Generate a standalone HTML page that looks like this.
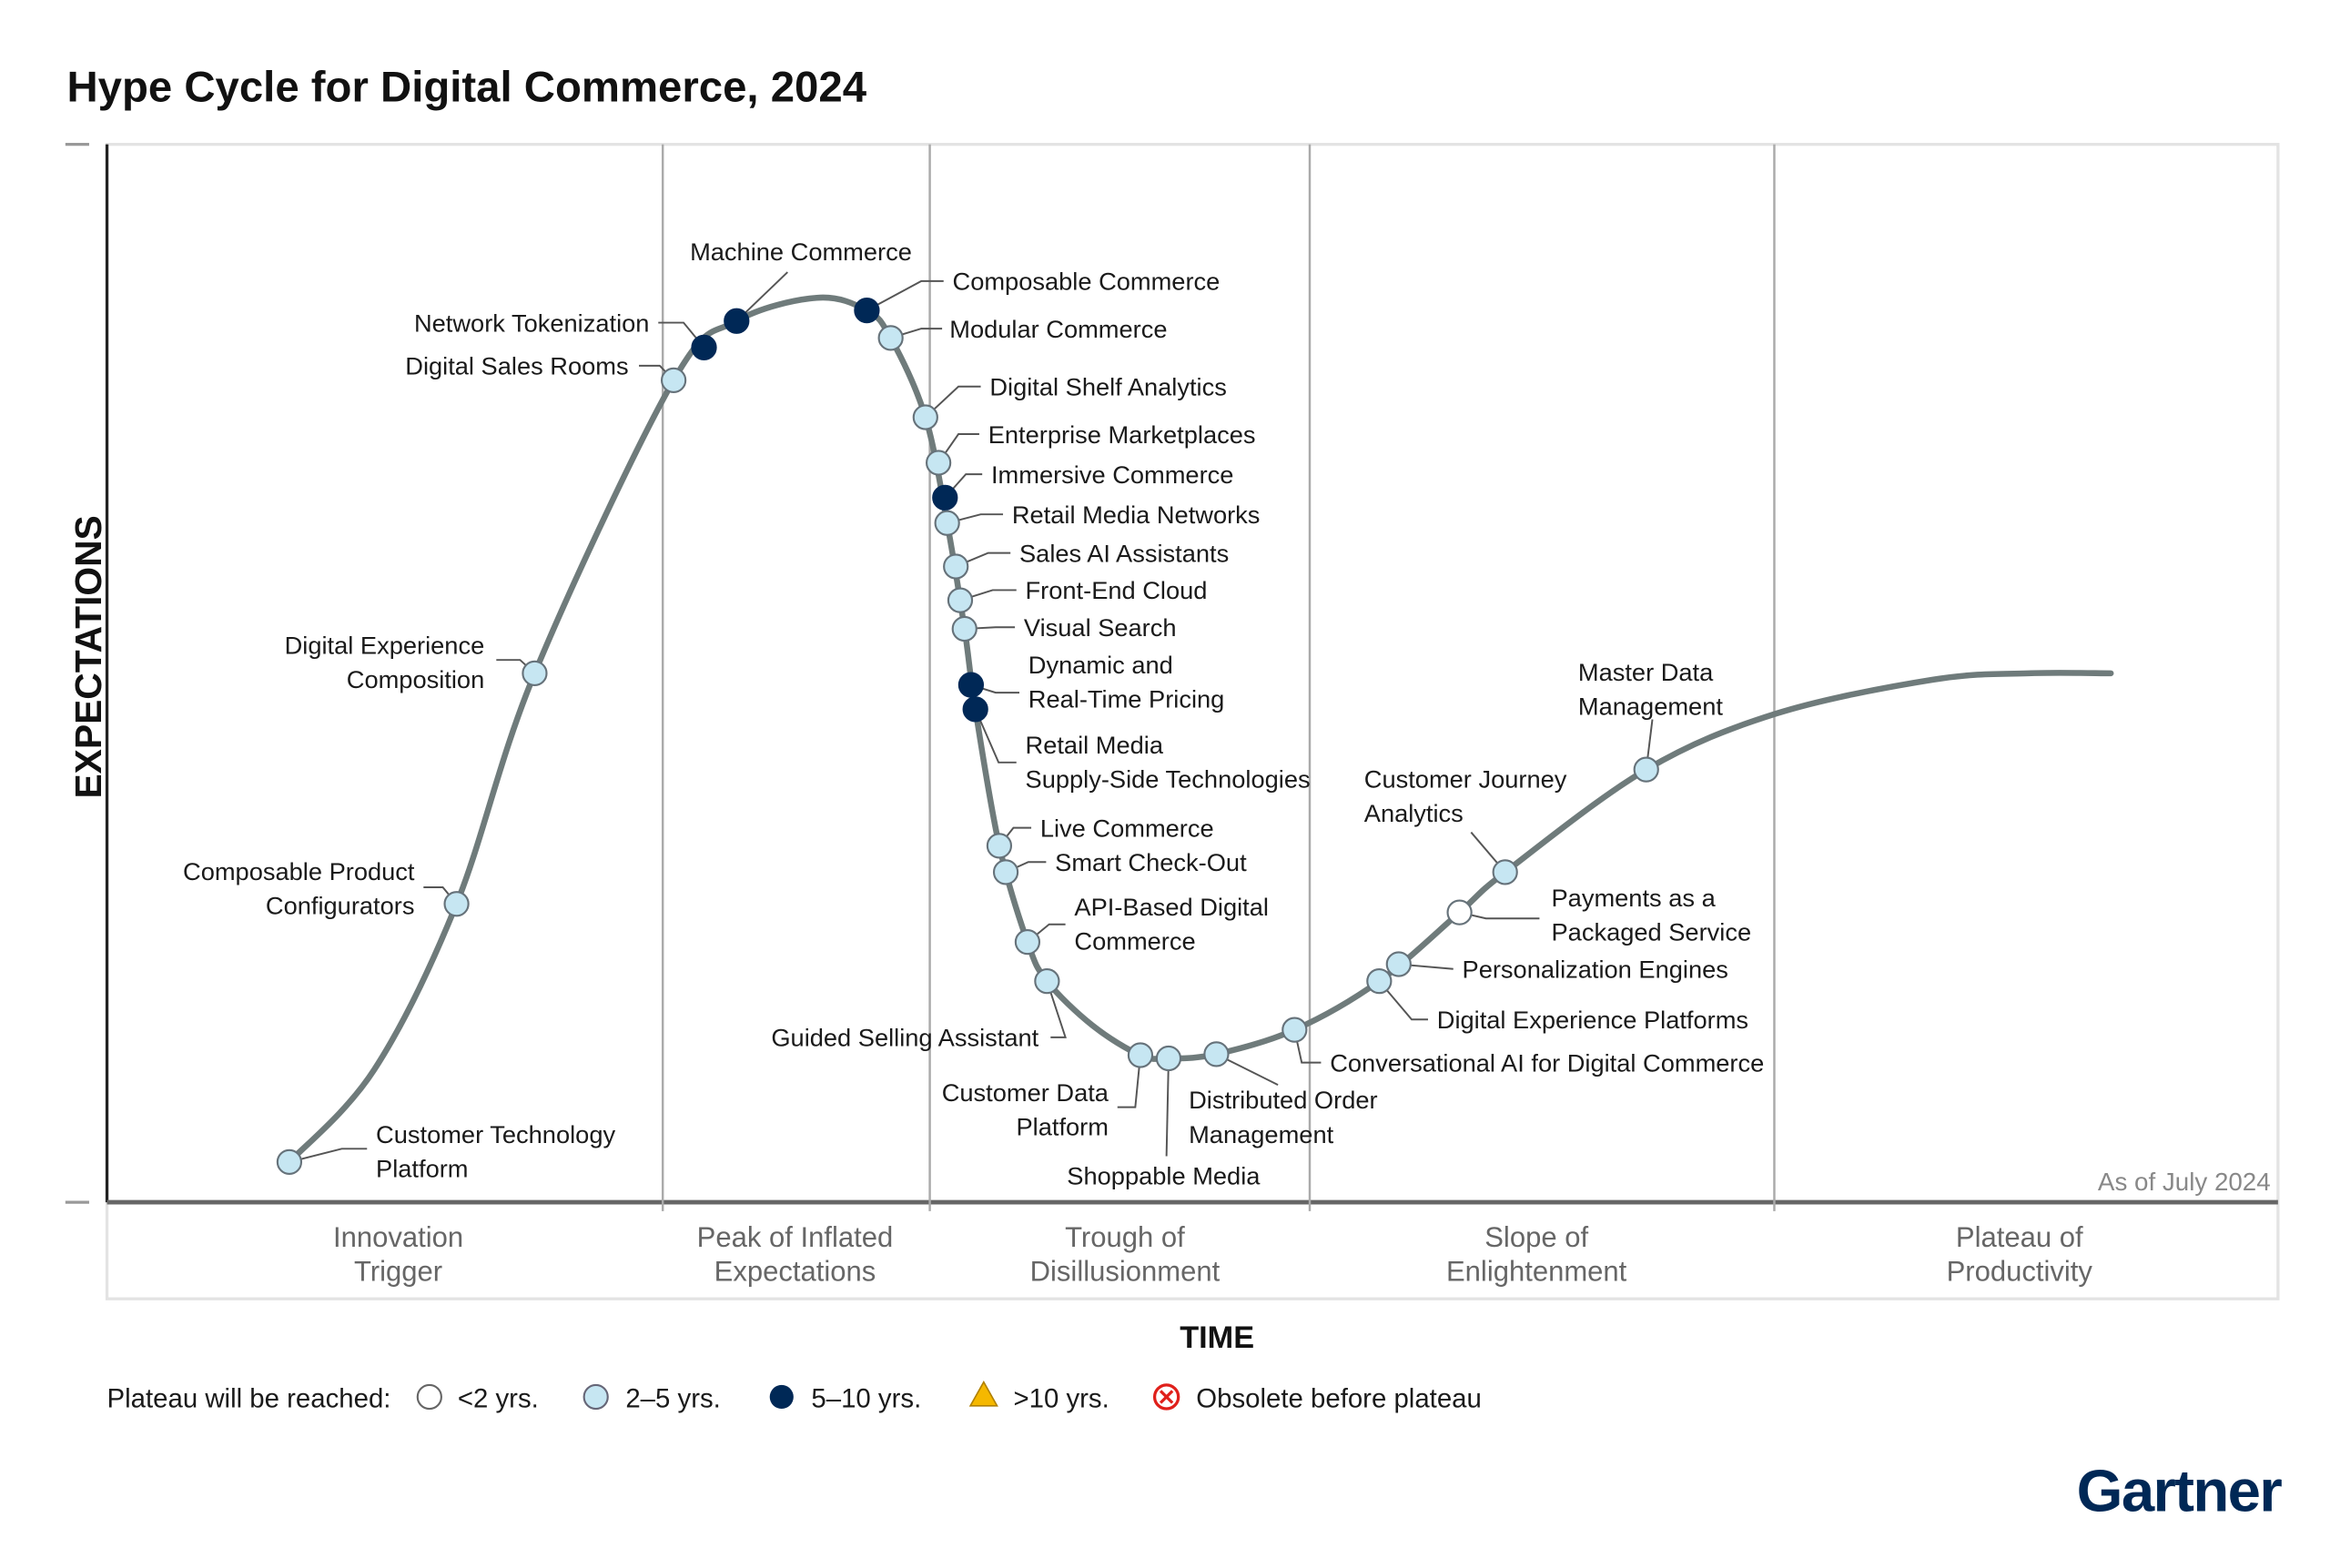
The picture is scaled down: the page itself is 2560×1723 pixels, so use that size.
<!DOCTYPE html>
<html><head><meta charset="utf-8"><style>
html,body{margin:0;padding:0;background:#fff;}
svg{display:block;font-family:"Liberation Sans Narrow","Liberation Sans",sans-serif;}
.lbl{font-size:16.7px;fill:#1a1a1a;}
.lead{stroke:#555;stroke-width:1.2;fill:none;}
.phase{font-size:19px;fill:#666;text-anchor:middle;}
</style></head><body>
<svg id="chart" width="2560" height="1723" viewBox="0 0 1568 1055" xmlns="http://www.w3.org/2000/svg">
<text x="45" y="68" style="font-family:'Liberation Sans',sans-serif;font-weight:bold;font-size:29px;fill:#111">Hype Cycle for Digital Commerce, 2024</text>
<rect x="72" y="97" width="1461" height="712" fill="none" stroke="#e3e3e3" stroke-width="2"/>
<rect x="72" y="809" width="1461" height="65" fill="none" stroke="#e3e3e3" stroke-width="2"/>
<line x1="72" y1="97" x2="72" y2="809" stroke="#222" stroke-width="2"/>
<line x1="72" y1="809" x2="1533" y2="809" stroke="#666" stroke-width="3"/>
<line x1="44" y1="97" x2="60" y2="97" stroke="#999" stroke-width="2"/>
<line x1="44" y1="809" x2="60" y2="809" stroke="#999" stroke-width="2"/>
<g id="dividers"></g>
<text transform="translate(68,442) rotate(-90)" text-anchor="middle" style="font-family:'Liberation Sans',sans-serif;font-weight:bold;font-size:25px;fill:#111">EXPECTATIONS</text>
<text x="819" y="907" text-anchor="middle" style="font-family:'Liberation Sans',sans-serif;font-weight:bold;font-size:21px;fill:#111">TIME</text>
<text x="1528" y="801" text-anchor="end" style="font-size:17px;fill:#888">As of July 2024</text>
<g id="phases"></g>
<path id="curve" fill="none" stroke="#6f7b7b" stroke-width="4" stroke-linecap="round"/>
<g id="leaders"></g>
<g id="markers"></g>
<g id="labels"></g>
<g style="font-size:18px;fill:#1a1a1a">
<text x="72" y="947">Plateau will be reached:</text>
<circle cx="289" cy="940" r="8" fill="#fff" stroke="#666" stroke-width="1.3"/><text x="308" y="947">&lt;2 yrs.</text>
<circle cx="401" cy="940" r="8" fill="#c6e6f2" stroke="#667" stroke-width="1.3"/><text x="421" y="947">2–5 yrs.</text>
<circle cx="526" cy="940" r="8" fill="#002856"/><text x="546" y="947">5–10 yrs.</text>
<polygon points="662,930 671,946 653,946" fill="#f5b800" stroke="#b08000" stroke-width="1"/><text x="682" y="947">&gt;10 yrs.</text>
<g><circle cx="785" cy="940" r="8" fill="#fff" stroke="#e0201b" stroke-width="2"/><path d="M781,936 L789,944 M789,936 L781,944" stroke="#e0201b" stroke-width="2"/></g><text x="805" y="947">Obsolete before plateau</text>
</g>
<text x="1535" y="1017" text-anchor="end" style="font-family:'Liberation Sans',sans-serif;font-weight:bold;font-size:40px;fill:#002856;letter-spacing:-1px">Gartner</text>
</svg>
<script>
// data
const names=["Customer Technology Platform","Composable Product Configurators","Digital Experience Composition","Digital Sales Rooms","Network Tokenization","Machine Commerce","Composable Commerce","Modular Commerce","Digital Shelf Analytics","Enterprise Marketplaces","Immersive Commerce","Retail Media Networks","Sales AI Assistants","Front-End Cloud","Visual Search","Dynamic and Real-Time Pricing","Retail Media Supply-Side Technologies","Live Commerce","Smart Check-Out","API-Based Digital Commerce","Guided Selling Assistant","Customer Data Platform","Shoppable Media","Distributed Order Management","Conversational AI for Digital Commerce","Digital Experience Platforms","Personalization Engines","Payments as a Packaged Service","Customer Journey Analytics","Master Data Management"];
const timeVals=[8.4,16.1,19.7,26.1,27.5,29.0,35.0,36.1,37.7,38.3,38.6,38.7,39.1,39.3,39.5,39.8,40.0,41.1,41.4,42.4,43.3,47.6,48.9,51.1,54.7,58.6,59.5,62.3,64.4,70.9];
const expectVals=[3.8,28.2,50.0,77.7,80.8,83.3,84.3,81.7,74.2,69.9,66.6,64.2,60.1,56.9,54.2,48.9,46.6,33.7,31.2,24.6,20.9,13.9,13.6,14.0,16.3,20.9,22.5,27.4,31.2,40.9];
const plateau=["2-5","2-5","2-5","2-5","5-10","5-10","5-10","2-5","2-5","2-5","5-10","2-5","2-5","2-5","2-5","5-10","5-10","2-5","2-5","2-5","2-5","2-5","2-5","2-5","2-5","2-5","2-5","<2","2-5","2-5"];
const curveT=[8.4,12.3,16.1,19.7,26.1,29.0,32.7,35.0,36.1,37.7,38.7,39.5,40.0,41.1,42.4,43.3,45.4,47.6,48.9,51.1,54.7,58.6,62.3,64.4,70.9,76.9,84.1,88.5,92.3];
const curveE=[3.8,12.5,28.2,50.0,77.7,83.3,85.5,84.3,81.7,74.2,64.2,54.2,46.6,33.7,24.6,20.9,16.7,13.9,13.6,14.0,16.3,20.9,27.4,31.2,40.9,46.2,49.4,50.0,50.0];
const phaseLabels=[["Innovation","Trigger"],["Peak of Inflated","Expectations"],["Trough of","Disillusionment"],["Slope of","Enlightenment"],["Plateau of","Productivity"]];
const phaseBounds=[0,25.6,37.9,55.4,76.8,100];

// axes
const X=t=>72+t*14.61, Y=e=>809-e*7.12;
const NS="http://www.w3.org/2000/svg";
function mk(tag,attrs,parent){const el=document.createElementNS(NS,tag);for(const k in attrs)el.setAttribute(k,attrs[k]);parent.appendChild(el);return el;}

const dv=document.getElementById('dividers'), ph=document.getElementById('phases');
for(let i=1;i<phaseBounds.length-1;i++){
  const l=mk('line',{x1:X(phaseBounds[i]),y1:97,x2:X(phaseBounds[i]),y2:815,stroke:'#aaa','stroke-width':1.5},dv);
  
  
}
const phaseCenters=[268,535,757,1034,1359];
phaseLabels.forEach((p,i)=>{
  const t=mk('text',{class:'phase',x:phaseCenters[i],y:839},ph);
  
  
  p.forEach((s,j)=>{const ts=mk('tspan',{x:phaseCenters[i],dy:j?23:0},t);ts.textContent=s;});
});

const P=curveT.map((t,i)=>[X(t),Y(curveE[i])]);
let d=`M${P[0][0]},${P[0][1]}`;
for(let i=0;i<P.length-1;i++){
  const p0=P[i-1]||P[i],p1=P[i],p2=P[i+1],p3=P[i+2]||p2;
  const c1=[p1[0]+(p2[0]-p0[0])/6,p1[1]+(p2[1]-p0[1])/6];
  const c2=[p2[0]-(p3[0]-p1[0])/6,p2[1]-(p3[1]-p1[1])/6];
  d+=` C${c1[0]},${c1[1]} ${c2[0]},${c2[1]} ${p2[0]},${p2[1]}`;
}
document.getElementById('curve').setAttribute('d',d);

const layout=[
 [["Customer Technology","Platform"],253,769,"start",[[247,773],[230,773]]],
 [["Composable Product","Configurators"],279,592,"end",[[285,597],[298,597]]],
 [["Digital Experience","Composition"],326,440,"end",[[334,444],[350,444]]],
 [["Digital Sales Rooms"],423,252,"end",[[430,246],[444,246]]],
 [["Network Tokenization"],437,223,"end",[[443,217],[460,217]]],
 [["Machine Commerce"],539,175,"middle",[[530,183]]],
 [["Composable Commerce"],641,195,"start",[[635,189],[620,189]]],
 [["Modular Commerce"],639,227,"start",[[634,221],[620,221]]],
 [["Digital Shelf Analytics"],666,266,"start",[[660,260],[645,260]]],
 [["Enterprise Marketplaces"],665,298,"start",[[659,292],[645,292]]],
 [["Immersive Commerce"],667,325,"start",[[661,319],[650,319]]],
 [["Retail Media Networks"],681,352,"start",[[675,346],[660,346]]],
 [["Sales AI Assistants"],686,378,"start",[[680,372],[665,372]]],
 [["Front-End Cloud"],690,403,"start",[[684,397],[668,397]]],
 [["Visual Search"],689,428,"start",[[683,422],[670,422]]],
 [["Dynamic and","Real-Time Pricing"],692,453,"start",[[686,466],[670,466]]],
 [["Retail Media","Supply-Side Technologies"],690,507,"start",[[684,513],[672,513]]],
 [["Live Commerce"],700,563,"start",[[694,557],[682,557]]],
 [["Smart Check-Out"],710,586,"start",[[704,580],[692,580]]],
 [["API-Based Digital","Commerce"],723,616,"start",[[717,622],[706,622]]],
 [["Guided Selling Assistant"],699,704,"end",[[707,698],[717,698]]],
 [["Customer Data","Platform"],746,741,"end",[[752,745],[764,745]]],
 [["Shoppable Media"],783,797,"middle",[[785,778]]],
 [["Distributed Order","Management"],800,746,"start",[[860,730]]],
 [["Conversational AI for Digital Commerce"],895,721,"start",[[889,715],[876,715]]],
 [["Digital Experience Platforms"],967,692,"start",[[961,686],[950,686]]],
 [["Personalization Engines"],984,658,"start",[[978,652]]],
 [["Payments as a","Packaged Service"],1044,610,"start",[[1036,618],[1000,618]]],
 [["Customer Journey","Analytics"],918,530,"start",[[990,560]]],
 [["Master Data","Management"],1062,458,"start",[[1112,484]]]
];
const fills={"<2":"#ffffff","2-5":"#c6e6f2","5-10":"#002856"};
const gl=document.getElementById('leaders'),gm=document.getElementById('markers'),gt=document.getElementById('labels');
names.forEach((n,i)=>{
  const cx=X(timeVals[i]),cy=Y(expectVals[i]);
  const L=layout[i];
  const pts=L[4].map(p=>p.join(',')).concat([cx+','+cy]).join(' ');
  const pl=mk('polyline',{class:'lead',points:pts},gl);
  
  
  const c=mk('circle',{cx:cx,cy:cy,r:8,fill:fills[plateau[i]],stroke:plateau[i]==="5-10"?"#002856":"#66727a",'stroke-width':1.3},gm);
  
  
  const t=mk('text',{class:'lbl',x:L[1],y:L[2],'text-anchor':L[3]},gt);
  
  
  L[0].forEach((s,j)=>{const ts=mk('tspan',{x:L[1],dy:j?23:0},t);ts.textContent=s;});
});
</script>
</body></html>
